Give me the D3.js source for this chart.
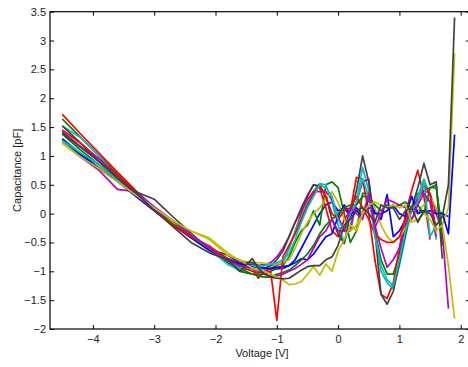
<!DOCTYPE html>
<html><head><meta charset="utf-8">
<script src="https://cdn.jsdelivr.net/npm/d3@7"></script>
<style>body{margin:0;background:#fff}svg{display:block}text{font-family:"Liberation Sans",Arial,sans-serif;font-size:11px;fill:#222}</style>
</head><body><svg id="c" width="468" height="367"></svg>
<script>
const voltage = [-4.5,-4.2,-3.9,-3.6,-3.3,-3.0,-2.7,-2.4,-2.1,-1.8,-1.6,
  -1.4,-1.3,-1.2,-1.1,-1.0,-0.9,-0.8,-0.7,-0.6,-0.5,-0.4,-0.3,-0.2,-0.1,0,
  0.1,0.2,0.3,0.4,0.5,0.6,0.7,0.8,0.9,1.0,1.1,1.2,1.3,1.4,1.5,1.6,1.7,1.8,1.9];
const xTicks = [-4,-3,-2,-1,0,1,2];
const yTicks = [-2,-1.5,-1,-0.5,0,0.5,1,1.5,2,2.5,3,3.5];
const colors = ["#0000ff","#008000","#ff0000","#00bfbf","#bf00bf","#bfbf00","#404040"];
const b1 = [1.30,1.04,0.80,0.56,0.32,0.06,-0.18,-0.40,-0.62,-0.78,-0.86,
  -0.92,-0.93,-0.95,-0.96,-0.96,-0.95,-0.90,-0.80,-0.60,-0.40,-0.20,0.00,0.15,0.20,0.05,
  0.10,-0.05,0.10,0.00,0.10,0.05,-0.10,0.33,-0.40,-0.30,-0.10,0.10,0.05,0.05,0.05,0.05,0.00,-0.05,null];
const g1 = [1.64,1.32,1.00,0.68,0.38,0.10,-0.15,-0.38,-0.58,-0.85,-1.00,
  -1.05,-1.05,-1.05,-1.00,-0.95,-0.90,-0.75,-0.50,-0.30,-0.20,0.05,-0.20,0.50,0.55,0.45,
  0.00,-0.50,-0.30,0.35,0.35,-0.30,-0.80,-1.05,-1.05,-0.70,-0.20,0.05,0.35,0.40,0.45,0.50,-0.55,null,null];
const r1 = [1.72,1.38,1.05,0.72,0.40,0.10,-0.15,-0.38,-0.60,-0.78,-0.90,
  -0.95,-1.12,-1.00,-0.95,-0.90,-0.85,-0.60,-0.30,0.00,0.30,0.50,0.45,0.10,-0.30,-0.40,
  -0.10,0.05,0.63,0.60,0.00,-0.80,-1.40,-1.47,-1.20,-0.60,0.00,0.40,0.75,0.30,-0.45,null,null,null,null];
const c1 = [1.52,1.32,1.00,0.62,0.34,0.08,-0.18,-0.40,-0.62,-0.88,-0.98,
  -0.95,-0.98,-0.95,-0.90,-0.88,-0.85,-0.60,-0.30,-0.05,0.20,0.40,0.52,0.50,0.20,-0.20,
  -0.50,-0.20,0.20,0.80,0.40,-0.30,-1.00,-1.20,-1.30,-0.90,-0.40,0.10,0.30,0.60,0.30,-0.45,null,null,null];
const m1 = [1.23,0.98,0.75,0.42,0.38,0.12,-0.12,-0.38,-0.58,-0.78,-0.88,
  -0.88,-0.90,-0.88,-0.85,-0.75,-0.60,-0.40,-0.15,0.05,0.25,0.38,0.38,0.38,0.25,-0.05,
  -0.30,-0.30,0.20,0.55,0.60,-0.20,-0.60,-0.93,-0.80,-0.60,-0.20,0.10,0.25,0.40,0.35,0.00,-0.30,-1.65,null];
const y1 = [1.25,1.00,0.80,0.56,0.33,0.08,-0.15,-0.30,-0.42,-0.68,-0.82,
  -0.85,-0.85,-0.86,-0.88,-0.87,-0.85,-0.80,-0.60,-0.35,-0.15,0.00,0.10,0.25,0.38,0.20,
  -0.10,-0.30,-0.20,0.05,0.30,0.10,-0.20,-0.40,-0.50,-0.40,-0.25,-0.10,0.05,0.15,0.30,0.10,-0.20,0.10,2.78];
const k1 = [1.52,1.22,0.90,0.62,0.38,0.25,-0.05,-0.34,-0.62,-0.72,-0.85,
  -0.85,-0.90,-0.95,-0.90,-0.80,-0.65,-0.40,-0.15,0.10,0.32,0.50,0.48,0.30,-0.10,-0.35,
  -0.52,0.00,0.40,1.00,0.55,-0.30,-1.40,-1.57,-1.35,-0.85,-0.35,0.10,0.45,0.87,0.50,0.55,-0.78,null,null];
const b2 = [1.28,1.02,0.78,0.56,0.30,0.05,-0.20,-0.42,-0.64,-0.80,-0.88,
  -0.90,-0.92,-0.95,-0.95,-0.93,-0.92,-0.90,-0.85,-0.78,-0.80,-0.70,-0.55,-0.40,-0.35,-0.05,
  0.15,0.00,0.05,-0.05,0.25,0.00,0.00,0.05,0.15,0.00,-0.05,0.30,0.00,0.05,0.05,0.00,0.00,-0.35,1.37];
const g2 = [1.38,1.10,0.85,0.60,0.34,0.07,-0.18,-0.40,-0.60,-0.84,-0.95,
  -1.05,-1.08,-1.10,-1.10,-1.05,-1.02,-0.98,-0.90,-0.80,-0.70,-0.55,-0.35,-0.20,-0.10,0.00,
  0.10,0.15,0.15,0.30,0.30,0.15,0.05,0.15,0.10,0.15,0.20,0.10,0.15,0.00,0.45,0.45,-0.30,null,null];
const r2 = [1.45,1.22,0.95,0.66,0.36,0.06,-0.20,-0.40,-0.56,-0.80,-0.92,
  -1.00,-1.02,-1.00,-1.00,-1.85,-0.75,-0.55,-0.35,-0.10,0.15,0.35,0.50,0.30,0.00,-0.10,
  0.05,0.10,0.30,0.10,-0.10,-0.35,-0.45,-0.50,-0.50,-0.40,-0.10,0.10,0.20,0.50,0.35,-0.30,null,null,null];
const c2 = [1.27,1.05,0.85,0.58,0.34,0.10,-0.12,-0.36,-0.60,-0.82,-0.95,
  -0.90,-0.92,-0.90,-0.88,-0.85,-0.80,-0.70,-0.45,-0.15,0.10,0.30,0.50,0.45,0.30,-0.10,
  -0.30,0.00,0.20,0.60,0.30,-0.40,-0.90,-1.15,-1.25,-0.80,-0.30,0.05,0.20,0.55,-0.40,-0.20,null,null,null];
const m2 = [1.42,1.16,0.95,0.62,0.34,0.06,-0.12,-0.36,-0.60,-0.82,-0.90,
  -0.95,-1.00,-1.05,-1.08,-1.08,-1.05,-1.00,-0.95,-0.88,-0.80,-0.60,-0.40,-0.30,-0.10,-0.30,
  -0.30,0.10,0.00,-0.10,0.35,-0.25,0.00,0.25,0.20,0.15,0.10,-0.10,0.15,0.35,0.20,-0.40,null,null,null];
const y2 = [1.22,0.98,0.78,0.55,0.32,0.10,-0.12,-0.30,-0.45,-0.72,-0.80,
  -0.95,-0.98,-1.00,-1.05,-1.10,-1.15,-1.23,-1.22,-1.18,-1.05,-0.92,-1.07,-0.87,-1.00,-0.65,
  -0.45,-0.20,-0.30,0.00,0.15,0.20,0.15,0.10,0.15,0.10,0.15,-0.15,-0.10,0.00,-0.10,-0.30,-0.20,-0.90,-1.82];
const k2 = [1.40,1.15,0.90,0.62,0.36,0.06,-0.22,-0.50,-0.68,-0.80,-1.00,
  -0.78,-0.95,-1.05,-1.10,-1.12,-1.13,-1.12,-1.05,-0.98,-0.92,-0.90,-0.90,-0.80,-0.75,-0.55,
  -0.20,-0.10,0.05,0.10,0.00,-0.15,0.15,0.10,0.10,-0.10,0.05,0.10,-0.15,0.05,0.00,-0.20,-0.05,0.50,3.40];
const series = [b1,g1,r1,c1,m1,y1,k1,b2,g2,r2,c2,m2,y2,k2];

const svg = d3.select("#c");
const L = 50, T = 11.7, B = 329, R = 469.9;
const x = d3.scaleLinear().domain([-4.7, 2.15]).range([L, R]);
const y = d3.scaleLinear().domain([-2, 3.5]).range([B, T]);
const fmt = d => (d < 0 ? "\u2212" + Math.abs(d) : String(d));

const line = d3.line().defined(d => d[1] !== null).x(d => x(d[0])).y(d => y(d[1]));
const plot = svg.append("g");
plot.append("clipPath").attr("id","clip").append("rect").attr("x",L).attr("y",T).attr("width",R-L).attr("height",B-T);
const lines = plot.append("g").attr("clip-path","url(#clip)");
series.forEach((s, i) => {
  lines.append("path").datum(voltage.map((v, j) => [v, s[j]]))
    .attr("d", line).attr("fill","none").attr("stroke", colors[i % 7])
    .attr("stroke-width", 1.7).attr("stroke-linejoin","round");
});

const xb = svg.append("g").attr("transform",`translate(0,${B})`)
  .call(d3.axisBottom(x).tickValues(xTicks).tickSize(-4).tickPadding(6).tickFormat(fmt));
const xt = svg.append("g").attr("transform",`translate(0,${T})`)
  .call(d3.axisTop(x).tickValues(xTicks).tickSize(-4).tickFormat(""));
const yl = svg.append("g").attr("transform",`translate(${L},0)`)
  .call(d3.axisLeft(y).tickValues(yTicks).tickSize(-4).tickPadding(4).tickFormat(fmt));
const yr = svg.append("g").attr("transform",`translate(${R},0)`)
  .call(d3.axisRight(y).tickValues(yTicks).tickSize(-4).tickFormat(""));
[xb,xt,yl,yr].forEach(g => {
  g.select(".domain").remove();
  g.selectAll(".tick line").attr("stroke","#000");
  g.selectAll("text").attr("fill","#222").style("font-size","11px").style("font-family","Liberation Sans, Arial, sans-serif");
});
svg.append("rect").attr("x",L).attr("y",T).attr("width",R-L).attr("height",B-T)
  .attr("fill","none").attr("stroke","#000").attr("stroke-width",1.2);

svg.append("text").attr("x",262).attr("y",357).attr("text-anchor","middle").text("Voltage [V]");
svg.append("text").attr("transform",`translate(21,${(T+B)/2}) rotate(-90)`).attr("text-anchor","middle").text("Capacitance [pF]");
</script></body></html>
